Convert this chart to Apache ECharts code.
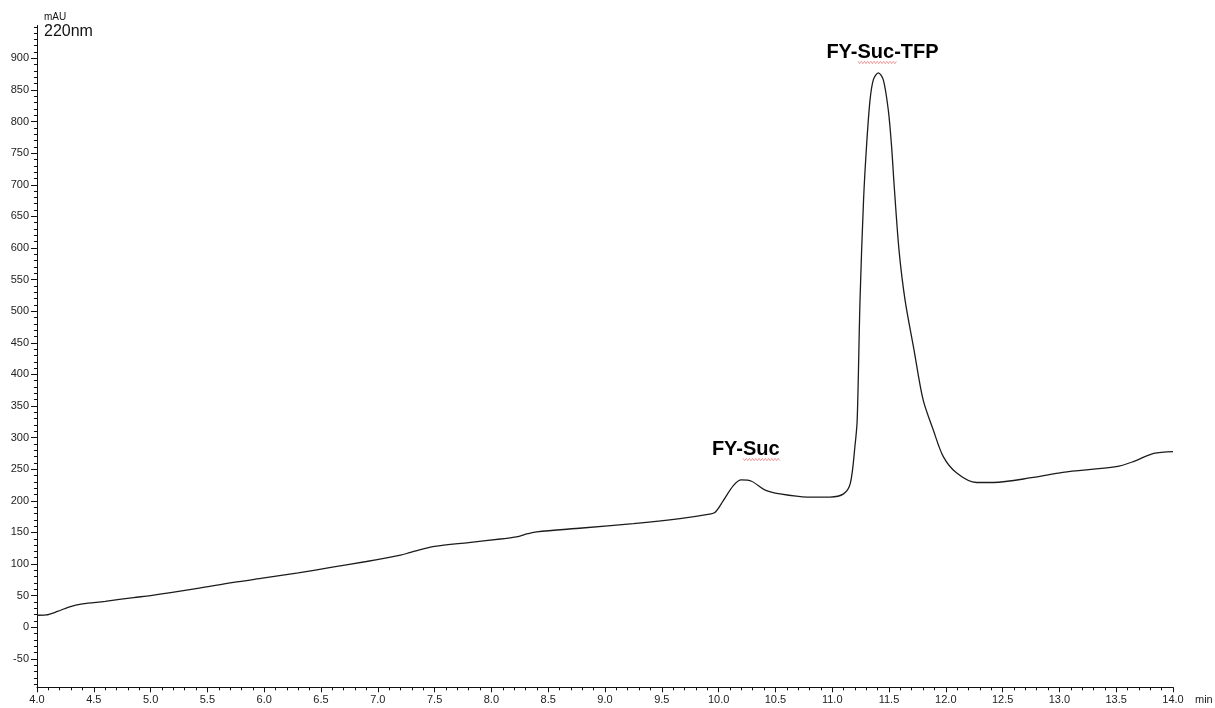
<!DOCTYPE html>
<html>
<head>
<meta charset="utf-8">
<script src="https://cdn.jsdelivr.net/npm/echarts@6/dist/echarts.min.js"></script>
<style>
html,body{margin:0;padding:0;background:#fff;}
#chart{width:1215px;height:708px;}
</style>
</head>
<body>
<div id="chart"></div>
<script>
// Retention time (min)
const timeMin = [4.00,4.08,4.18,4.28,4.40,4.60,4.85,5.00,5.40,5.73,6.00,6.30,6.60,6.90,7.20,7.28,7.40,7.50,7.80,8.10,8.22,8.32,8.40,8.80,9.25,9.66,9.92,9.97,10.04,10.13,10.20,10.29,10.41,10.54,10.78,10.98,11.10,11.16,11.20,11.22,11.245,11.276,11.304,11.333,11.362,11.406,11.45,11.494,11.523,11.545,11.588,11.641,11.72,11.80,11.89,11.978,12.096,12.27,12.42,12.77,13.03,13.50,13.65,13.83,14.00];
// Absorbance (mAU) at 220 nm
const absorbance = [19,19.5,25,32,37,41,47,50,61,71,78,86,95,104,114,118,124,128,134,140,143,148,151,157,164,172,179,182,200,224,233,231,217,211,206,206,211,228,286,328,518,676,766,834,866,877,866,818,760,700,597,518,439,360,312,270,244,229,229,237,245,254,262,275,278];
// Axis tick values
const yMajorTicks = [-50,0,50,100,150,200,250,300,350,400,450,500,550,600,650,700,750,800,850,900];
const yMinorTicks = [];
for (let v = -90; v <= 950; v += 10) yMinorTicks.push(v);
// Peak labels
const peakLabels = ['FY-Suc', 'FY-Suc-TFP'];

const chart = echarts.init(document.getElementById('chart'), null, {renderer: 'canvas'});
const seriesData = timeMin.map((t, i) => [t, absorbance[i]]);

function wavy(x0, x1, yc) {
  const pts = [];
  let up = true;
  for (let x = x0; x <= x1; x += 1.6) { pts.push([x, yc + (up ? -1.2 : 1.2)]); up = !up; }
  return pts;
}

const FONT = '"Liberation Sans", Arial, sans-serif';
const axisColor = '#111';

chart.setOption({
  animation: false,
  backgroundColor: '#fff',
  grid: {left: 37, right: 42, top: 25.5, bottom: 20.7},
  xAxis: {
    type: 'value', min: 4, max: 14, interval: 0.5,
    axisLine: {show: true, onZero: false, lineStyle: {color: axisColor, width: 1}},
    axisTick: {show: true, length: 5, inside: false, lineStyle: {color: axisColor}},
    minorTick: {show: true, splitNumber: 5, length: 3, lineStyle: {color: axisColor}},
    axisLabel: {formatter: v => v.toFixed(1), fontSize: 11, color: '#222', fontFamily: FONT, margin: 7, showMinLabel: true, showMaxLabel: true},
    splitLine: {show: false}, minorSplitLine: {show: false}
  },
  yAxis: [{
    type: 'value', min: -95, max: 952,
    axisLine: {show: true, onZero: false, lineStyle: {color: axisColor, width: 1}},
    axisTick: {show: true, length: 6, customValues: yMajorTicks, lineStyle: {color: axisColor}},
    axisLabel: {customValues: yMajorTicks, formatter: v => String(v), fontSize: 11, color: '#222', fontFamily: FONT, margin: 8},
    splitLine: {show: false}
  }, {
    type: 'value', min: -95, max: 952, position: 'left',
    axisLine: {show: false, onZero: false},
    axisTick: {show: true, length: 3, customValues: yMinorTicks, lineStyle: {color: axisColor}},
    axisLabel: {show: false},
    splitLine: {show: false}
  }],
  series: [{
    type: 'line', data: seriesData, xAxisIndex: 0, yAxisIndex: 0,
    showSymbol: false, smooth: 0.3,
    lineStyle: {color: '#1c1c1c', width: 1.3}
  }],
  graphic: [
    {type: 'text', style: {x: 44, y: 17, text: 'mAU', font: '10px ' + FONT, fill: '#111', verticalAlign: 'middle'}},
    {type: 'text', style: {x: 44, y: 31.8, text: '220nm', font: '16px ' + FONT, fill: '#111', verticalAlign: 'middle'}},
    {type: 'text', style: {x: 1195, y: 699.6, text: 'min', font: '11px ' + FONT, fill: '#222', verticalAlign: 'middle'}},
    {type: 'text', style: {x: 745.8, y: 449.2, text: peakLabels[0], font: 'bold 20px ' + FONT, fill: '#000', align: 'center', verticalAlign: 'middle'}},
    {type: 'text', style: {x: 882.5, y: 52.2, text: peakLabels[1], font: 'bold 20px ' + FONT, fill: '#000', align: 'center', verticalAlign: 'middle'}},
    {type: 'polyline', shape: {points: wavy(743, 780, 459.5)}, style: {stroke: '#e05555', lineWidth: 0.8, opacity: 0.7}},
    {type: 'polyline', shape: {points: wavy(858, 897, 62.5)}, style: {stroke: '#e05555', lineWidth: 0.8, opacity: 0.7}}
  ]
});
</script>
</body>
</html>
